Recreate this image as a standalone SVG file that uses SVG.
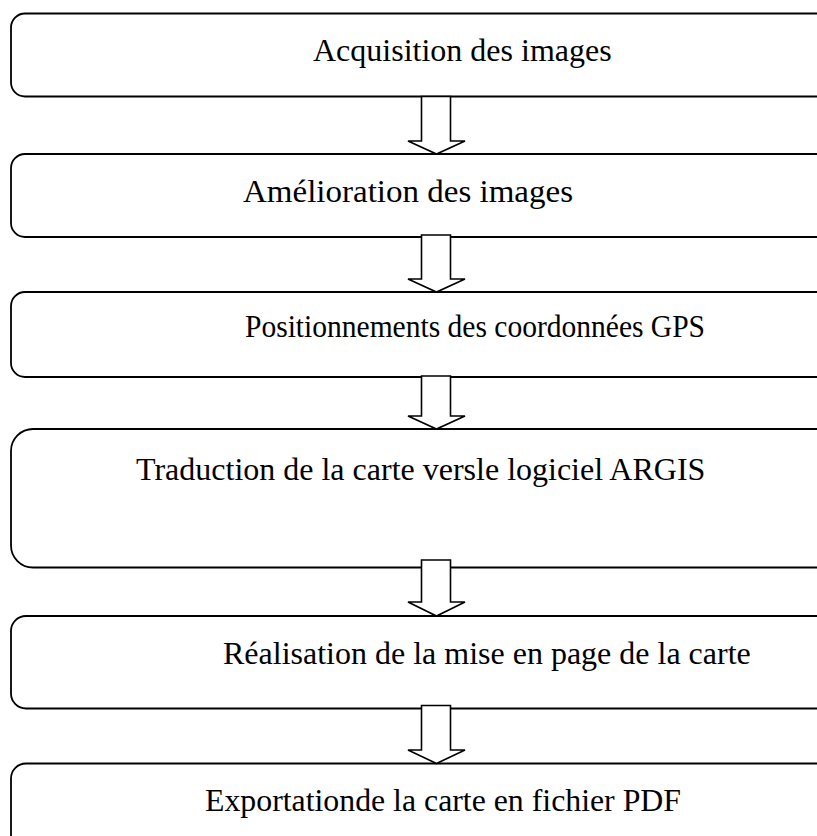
<svg xmlns="http://www.w3.org/2000/svg" width="817" height="836" viewBox="0 0 817 836">
<style>
.box{fill:#fff;stroke:#000;stroke-width:1.8}
.arr{fill:#fff;stroke:#000;stroke-width:1.6;stroke-linejoin:miter}
.t{font-family:"Liberation Serif","Times New Roman",serif;font-size:32px;fill:#000}
</style>
<rect width="817" height="836" fill="#fff"/>
<g id="n1"><rect class="box" x="11" y="13.5" width="840" height="83" rx="14" ry="14"/><text class="t" x="313" y="61">Acquisition des images</text></g>
<g id="n2"><rect class="box" x="11" y="154" width="840" height="83" rx="14" ry="14"/><text class="t" x="243" y="202" textLength="330" lengthAdjust="spacingAndGlyphs">Amélioration des images</text></g>
<g id="n3"><rect class="box" x="11" y="292" width="840" height="85" rx="14" ry="14"/><text class="t" x="245" y="337" textLength="460" lengthAdjust="spacingAndGlyphs">Positionnements des coordonnées GPS</text></g>
<g id="n4"><rect class="box" x="11" y="429" width="840" height="138.5" rx="22" ry="22"/><text class="t" x="136" y="480">Traduction de la carte versle logiciel ARGIS</text></g>
<g id="n5"><rect class="box" x="11" y="616" width="840" height="92.5" rx="15" ry="15"/><text class="t" x="223" y="664">Réalisation de la mise en page de la carte</text></g>
<g id="n6"><rect class="box" x="11" y="763.5" width="840" height="100" rx="15" ry="15"/><text class="t" x="205" y="811" textLength="476" lengthAdjust="spacingAndGlyphs">Exportationde la carte en fichier PDF</text></g>
<g id="connectors">
<path class="arr" d="M421.5,96.5 H450.5 V141 H465 L436.5,154 L408,141 H421.5 Z"/>
<path class="arr" d="M421.5,235 H450.5 V279 H465 L436.5,292 L408,279 H421.5 Z"/>
<path class="arr" d="M421.5,376 H450.5 V416 H465 L436.5,429 L408,416 H421.5 Z"/>
<path class="arr" d="M421.5,560 H450.5 V602 H465 L436.5,616 L408,602 H421.5 Z"/>
<path class="arr" d="M421.5,705.5 H450.5 V750 H465 L436.5,763.5 L408,750 H421.5 Z"/>
</g>
</svg>
